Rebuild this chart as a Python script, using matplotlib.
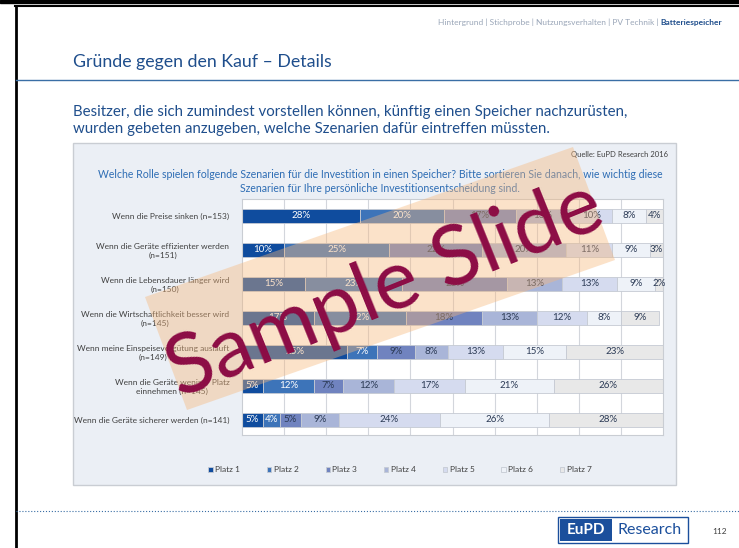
import matplotlib
matplotlib.use("Agg")
import matplotlib.pyplot as plt
from matplotlib.patches import Rectangle, Polygon
import numpy as np

plt.rcParams['font.family'] = ['Lato', 'DejaVu Sans']

# data
scenarios = ["Wenn die Preise sinken (n=153)",
             "Wenn die Geräte effizienter werden\n(n=151)",
             "Wenn die Lebensdauer länger wird\n(n=150)",
             "Wenn die Wirtschaftlichkeit besser wird\n(n=145)",
             "Wenn meine Einspeisevergütung ausläuft\n(n=149)",
             "Wenn die Geräte weniger Platz\neinnehmen (n=145)",
             "Wenn die Geräte sicherer werden (n=141)"]
places = ["Platz 1", "Platz 2", "Platz 3", "Platz 4", "Platz 5", "Platz 6", "Platz 7"]
platz1 = [28, 10, 15, 17, 25, 5, 5]
platz2 = [20, 25, 23, 22, 7, 12, 4]
platz3 = [17, 22, 25, 18, 9, 7, 5]
platz4 = [13, 20, 13, 13, 8, 12, 9]
platz5 = [10, 11, 13, 12, 13, 17, 24]
platz6 = [8, 9, 9, 8, 15, 21, 26]
platz7 = [4, 3, 2, 9, 23, 26, 28]
series = [platz1, platz2, platz3, platz4, platz5, platz6, platz7]
colors = ['#0f4c9e', '#3d74b9', '#7083bf', '#a9b5d8', '#d5dbef', '#eef2f8', '#e8e8e8']

W, H = 739, 548
fig = plt.figure(figsize=(W / 100, H / 100), dpi=100)
fig.patch.set_facecolor('white')

# background axes in pixel coordinates
bg = fig.add_axes([0, 0, 1, 1], zorder=0)
bg.set_xlim(0, W)
bg.set_ylim(H, 0)
bg.axis('off')

# frame lines of the screenshot
bg.add_patch(Rectangle((0, 0), W, 3, color='black'))
bg.plot([15, W], [6, 6], color='black', lw=1.5)
bg.plot([15.5, 15.5], [6, H], color='black', lw=2)

# header
bg.text(722, 22, "Batteriespeicher", ha='right', va='center', fontsize=6,
        color='#1f4e8c', fontweight='bold')
bg.text(658, 22, "Hintergrund | Stichprobe | Nutzungsverhalten | PV Technik |", ha='right',
        va='center', fontsize=6, color='#9aa6b8')
bg.text(73, 62, "Gründe gegen den Kauf – Details", ha='left', va='center', fontsize=12.8,
        color='#1f4e8c')
bg.plot([16, W], [80, 80], color='#3a6ea5', lw=1)
bg.text(73, 112, "Besitzer, die sich zumindest vorstellen können, künftig einen Speicher nachzurüsten,",
        ha='left', va='center', fontsize=10.8, color='#1f4e8c')
bg.text(73, 129, "wurden gebeten anzugeben, welche Szenarien dafür eintreffen müssten.",
        ha='left', va='center', fontsize=10.8, color='#1f4e8c')

# chart box
bg.add_patch(Rectangle((73, 143), 603, 342, facecolor='#ebeff5', edgecolor='#c9cdd3', lw=1))
bg.text(668, 155, "Quelle: EuPD Research 2016", ha='right', va='center', fontsize=5.5, color='#404040')
bg.text(380, 175, "Welche Rolle spielen folgende Szenarien für die Investition in einen Speicher? "
        "Bitte sortieren Sie danach, wie wichtig diese", ha='center', va='center',
        fontsize=7.6, color='#2e6db4')
bg.text(380, 188, "Szenarien für Ihre persönliche Investitionsentscheidung sind.", ha='center',
        va='center', fontsize=7.6, color='#2e6db4')

# footer
bg.plot([16, W], [511, 511], color='#3a6ea5', lw=0.8, ls=':')
bg.add_patch(Rectangle((558, 517), 130, 26, facecolor='white', edgecolor='#1b4f9c', lw=1))
bg.add_patch(Rectangle((560, 519), 52, 22, facecolor='#1b4f9c', edgecolor='none'))
bg.text(586, 530, "EuPD", ha='center', va='center', fontsize=11, color='white', fontweight='bold')
bg.text(650, 530, "Research", ha='center', va='center', fontsize=11.5, color='#1b4f9c')
bg.text(720, 532, "112", ha='center', va='center', fontsize=6, color='#404040')

# bar chart
x0, x1, y0, y1 = 242, 663, 199, 435
ax = fig.add_axes([x0 / W, 1 - y1 / H, (x1 - x0) / W, (y1 - y0) / H], zorder=1)
ax.set_facecolor('white')
y = np.arange(len(scenarios))
left = np.zeros(len(scenarios))
handles = []
for i, vals in enumerate(series):
    vals = np.array(vals, dtype=float)
    b = ax.barh(y, vals, left=left, height=0.41, color=colors[i], edgecolor='#c5cad3',
                linewidth=0.6, zorder=2, label=places[i])
    handles.append(b)
    tc = 'white' if i < 2 else '#2b3a55'
    for yy, l, v in zip(y, left, vals):
        ax.text(l + v / 2, yy, f"{int(v)}%", ha='center', va='center', fontsize=7,
                color=tc, zorder=3)
    left += vals

ax.set_xlim(0, 100)
ax.set_ylim(6.45, -0.5)
ax.set_xticks(np.arange(10, 100, 10))
ax.set_xticklabels([])
ax.tick_params(axis='x', length=0)
ax.grid(axis='x', color='#d3d6dc', lw=0.8, zorder=0)
ax.set_yticks(y)
ax.set_yticklabels(scenarios, fontsize=6, color='#404040')
for t in ax.get_yticklabels():
    t.set_multialignment('center')
ax.tick_params(axis='y', length=0, pad=9)
for s in ax.spines.values():
    s.set_color('#c9cdd3')
    s.set_linewidth(0.8)

fig.legend(handles=handles, labels=places, loc='center', bbox_to_anchor=(400 / W, 1 - 470 / H),
           ncol=7, frameon=False, fontsize=6, handlelength=0.5, handleheight=0.5,
           handletextpad=0.3, columnspacing=3.25, labelcolor='#404040')

# watermark
ov = fig.add_axes([0, 0, 1, 1], zorder=10)
ov.set_xlim(0, W)
ov.set_ylim(H, 0)
ov.axis('off')
ov.add_patch(Polygon([(145, 297), (573, 147), (615, 260), (187, 410)], closed=True,
                     facecolor='#f7b77a', alpha=0.4, edgecolor='none'))
ov.text(385, 290, "Sample Slide", ha='center', va='center', rotation=22, fontsize=60,
        color='#8c0c45')

fig.savefig('out.png', dpi=100)
